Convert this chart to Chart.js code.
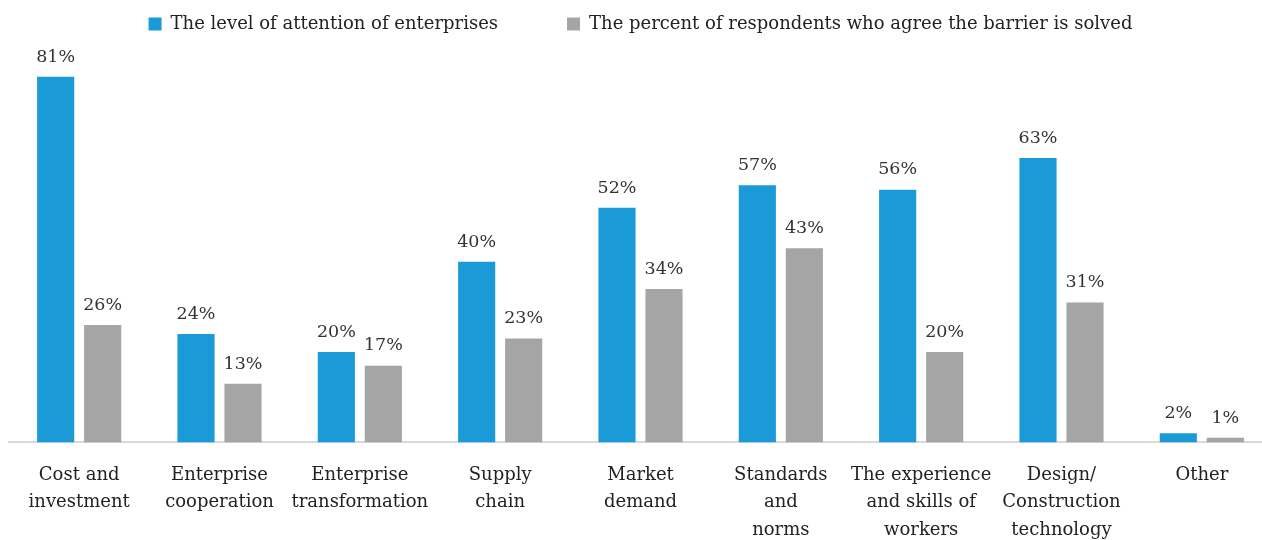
<!DOCTYPE html>
<html lang="en">
<head>
    <meta charset="UTF-8">
    <title>Barriers chart</title>
    <script src="https://cdn.jsdelivr.net/npm/chart.js"></script>
    <style>
        body {
            margin: 0;
            background: #ffffff;
            overflow: hidden;
        }
        .wrap {
            width: 1280px;
            height: 563px;
        }
    </style>
</head>
<body>
    <div class="wrap">
        <canvas id="barChart" width="1280" height="563"></canvas>
    </div>

    <script>
        const categories = [
            ['Cost and', 'investment'],
            ['Enterprise', 'cooperation'],
            ['Enterprise', 'transformation'],
            ['Supply', 'chain'],
            ['Market', 'demand'],
            ['Standards', 'and', 'norms'],
            ['The experience', 'and skills of', 'workers'],
            ['Design/', 'Construction', 'technology'],
            ['Other']
        ];
        const attention = [81, 24, 20, 40, 52, 57, 56, 63, 2];
        const solved = [26, 13, 17, 23, 34, 43, 20, 31, 1];

        const serif = "'DejaVu Serif', 'Liberation Serif', serif";

        // valeurs au-dessus des barres
        const valueLabels = {
            id: 'valueLabels',
            afterDatasetsDraw(chart) {
                const ctx = chart.ctx;
                ctx.save();
                ctx.font = '17.5px ' + serif;
                ctx.fillStyle = '#333333';
                ctx.textAlign = 'center';
                ctx.textBaseline = 'bottom';
                chart.data.datasets.forEach((ds, i) => {
                    chart.getDatasetMeta(i).data.forEach((bar, j) => {
                        ctx.fillText(ds.data[j] + '%', bar.x, bar.y - 11);
                    });
                });
                ctx.restore();
            }
        };

        new Chart(document.getElementById('barChart'), {
            type: 'bar',
            data: {
                labels: categories,
                datasets: [{
                    label: 'The level of attention of enterprises\u2003\u2003\u2003',
                    data: attention,
                    backgroundColor: '#1a9ad6',
                    categoryPercentage: 0.67,
                    barPercentage: 0.79
                }, {
                    label: 'The percent of respondents who agree the barrier is solved',
                    data: solved,
                    backgroundColor: '#a5a5a5',
                    categoryPercentage: 0.67,
                    barPercentage: 0.79
                }]
            },
            options: {
                responsive: false,
                animation: false,
                layout: { padding: { left: 9, right: 8 } },
                plugins: {
                    tooltip: { enabled: false },
                    legend: {
                        position: 'top',
                        labels: {
                            boxWidth: 13,
                            boxHeight: 13,
                            padding: 15,
                            color: '#222222',
                            font: { family: serif, size: 18 }
                        }
                    }
                },
                scales: {
                    x: {
                        grid: { display: false, drawTicks: false },
                        border: { display: true, color: '#d9d9d9', width: 2 },
                        ticks: {
                            padding: 19,
                            color: '#222222',
                            maxRotation: 0,
                            autoSkip: false,
                            font: { family: serif, size: 18, lineHeight: 1.53 }
                        }
                    },
                    y: {
                        display: false,
                        min: 0,
                        max: 88.5
                    }
                }
            },
            plugins: [valueLabels]
        });
    </script>
</body>
</html>
